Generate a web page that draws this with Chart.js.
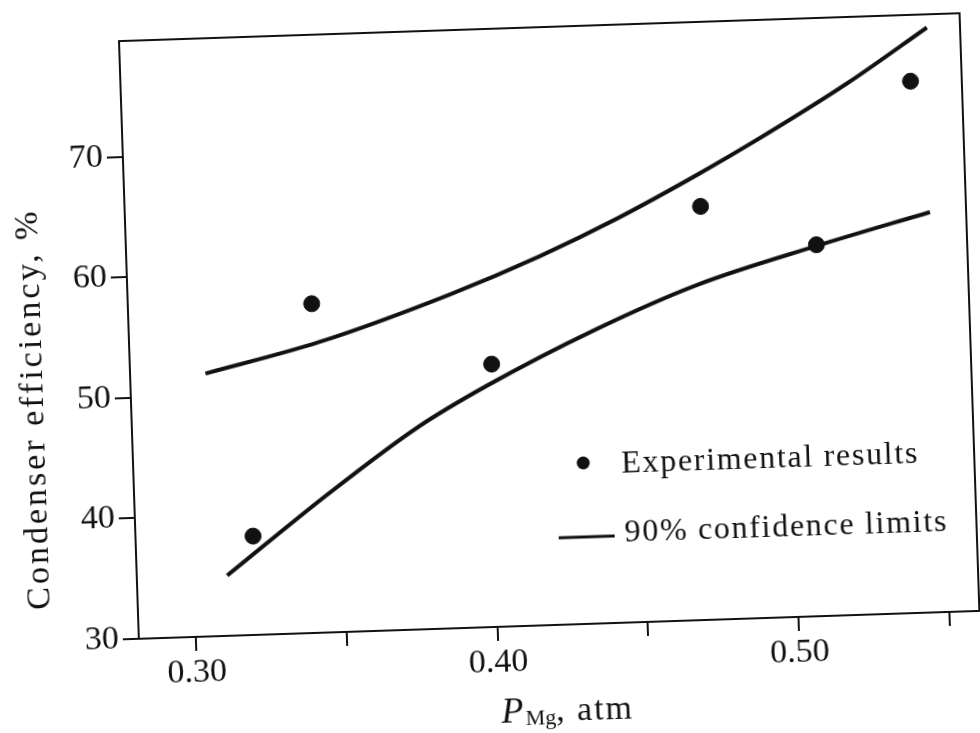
<!DOCTYPE html>
<html>
<head>
<meta charset="utf-8">
<script src="https://cdn.jsdelivr.net/npm/chart.js@4.4.1/dist/chart.umd.min.js"></script>
<style>
  html, body { margin: 0; padding: 0; background: #fff; overflow: hidden; }
  #wrap { width: 980px; height: 733px; }
  #chart { transform: rotate(-1.9deg); transform-origin: 50% 50%; }
</style>
</head>
<body>
<div id="wrap"><canvas id="chart" width="980" height="733"></canvas></div>
<script>
// experimental points
const expX = [0.320, 0.342, 0.401, 0.472, 0.510, 0.543];
const expY = [38.2, 57.3, 51.8, 64.3, 60.8, 74.1];

// 90% confidence limits
const upperX = [0.306, 0.344, 0.388, 0.418, 0.444, 0.471, 0.491, 0.522, 0.549];
const upperY = [51.8, 54.1, 57.7, 60.6, 63.5, 66.9, 69.6, 74.1, 78.5];
const lowerX = [0.311, 0.346, 0.376, 0.399, 0.436, 0.470, 0.510, 0.548];
const lowerY = [35.0, 41.6, 46.8, 50.0, 54.4, 57.8, 60.7, 63.2];

const xTicks = [0.30, 0.35, 0.40, 0.45, 0.50, 0.55];
const xTickLabels = ['0.30', '', '0.40', '', '0.50', ''];
const yTicks = [30, 40, 50, 60, 70];

const INK = '#111';
const SERIF = '"Liberation Serif", "DejaVu Serif", serif';

const pts = (xs, ys) => xs.map((x, i) => ({ x, y: ys[i] }));

// frame, axis titles and the hand-placed legend
const extras = {
  id: 'extras',
  afterDraw(chart) {
    const { ctx, chartArea: a } = chart;
    ctx.save();
    ctx.strokeStyle = INK;
    ctx.lineWidth = 2;
    ctx.beginPath();
    ctx.moveTo(a.left, a.top); ctx.lineTo(a.right, a.top); ctx.lineTo(a.right, a.bottom);
    ctx.stroke();

    ctx.fillStyle = INK;
    // y title
    ctx.save();
    ctx.translate(42, 394);
    ctx.rotate(-Math.PI / 2);
    ctx.font = '34px ' + SERIF;
    ctx.letterSpacing = '3px';
    ctx.textAlign = 'center';
    ctx.textBaseline = 'alphabetic';
    ctx.fillText('Condenser efficiency, %', 0, 0);
    ctx.restore();

    // x title: P with subscript Mg
    ctx.textBaseline = 'alphabetic';
    ctx.textAlign = 'left';
    let x = 490;
    ctx.font = 'italic 36px ' + SERIF;
    ctx.fillText('P', x, 723); x += ctx.measureText('P').width + 2;
    ctx.font = '22px ' + SERIF;
    ctx.fillText('Mg', x, 726); x += ctx.measureText('Mg').width;
    ctx.font = '34px ' + SERIF;
    ctx.letterSpacing = '2px';
    ctx.fillText(', atm', x, 723);

    // legend
    ctx.letterSpacing = '1.7px';
    ctx.font = '32px ' + SERIF;
    ctx.beginPath();
    ctx.arc(580, 466, 6.5, 0, Math.PI * 2);
    ctx.fill();
    ctx.fillText('Experimental results', 618, 477);
    ctx.lineWidth = 3;
    ctx.beginPath();
    ctx.moveTo(553, 540); ctx.lineTo(609, 540);
    ctx.stroke();
    ctx.fillText('90% confidence limits', 619, 546);
    ctx.restore();
  }
};

const lineStyle = { showLine: true, borderColor: INK, borderWidth: 4, pointRadius: 0, cubicInterpolationMode: 'monotone', fill: false };

new Chart(document.getElementById('chart'), {
  type: 'scatter',
  data: {
    datasets: [
      { label: 'Experimental results', data: pts(expX, expY), backgroundColor: INK, borderColor: INK, pointRadius: 8 },
      { label: 'upper', data: pts(upperX, upperY), ...lineStyle },
      { label: 'lower', data: pts(lowerX, lowerY), ...lineStyle },
    ]
  },
  options: {
    responsive: false,
    animation: false,
    devicePixelRatio: 1,
    layout: { padding: { top: 29, right: 5, left: 0, bottom: 0 } },
    plugins: { legend: { display: false }, tooltip: { enabled: false } },
    scales: {
      x: {
        type: 'linear', min: 0.281, max: 0.560,
        afterBuildTicks: (s) => { s.ticks = xTicks.map((v) => ({ value: v })); },
        afterFit: (s) => { s.height = 106; },
        grid: { drawOnChartArea: false, drawTicks: true, tickLength: 14, color: INK, lineWidth: 2 },
        border: { display: true, color: INK, width: 2 },
        ticks: { color: INK, font: { family: SERIF, size: 34 }, padding: 2, autoSkip: false, maxRotation: 0, callback: (v, i) => xTickLabels[i] },
      },
      y: {
        type: 'linear', min: 30, max: 79.6,
        afterBuildTicks: (s) => { s.ticks = yTicks.map((v) => ({ value: v })); },
        afterFit: (s) => { s.width = 130; },
        grid: { drawOnChartArea: false, drawTicks: true, tickLength: 16, color: INK, lineWidth: 2 },
        border: { display: true, color: INK, width: 2 },
        ticks: { color: INK, font: { family: SERIF, size: 34 }, padding: 4, callback: (v) => String(v) },
      },
    },
  },
  plugins: [extras],
});
</script>
</body>
</html>
